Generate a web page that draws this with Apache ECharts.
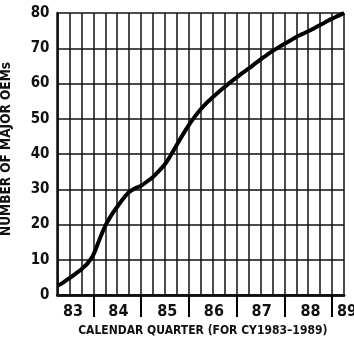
<!DOCTYPE html>
<html>
<head>
<meta charset="utf-8">
<script src="https://cdn.jsdelivr.net/npm/echarts@6/dist/echarts.min.js"></script>
<style>html,body{margin:0;padding:0;background:#fff;}#c{width:354px;height:337px;}</style>
</head>
<body>
<div id="c"></div>
<script>
// Position along the time axis in quarters (0 = start of the 83 block, 24 = 89), read every half quarter
var quarters = [0,0.5,1,1.5,2,2.5,3,3.5,4,4.5,5,5.5,6,6.5,7,7.5,8,8.5,9,9.5,10,10.5,11,11.5,12,12.5,13,13.5,14,14.5,15,15.5,16,16.5,17,17.5,18,18.5,19,19.5,20,20.5,21,21.5,22,22.5,23,23.5,24];
var oems = [2.6,3.6,4.8,6.0,7.3,8.9,11.4,15.6,19.6,22.6,25.0,27.3,29.2,30.3,31.0,32.2,33.5,35.2,37.1,39.7,42.6,45.5,48.2,50.6,52.7,54.5,56.1,57.6,59.0,60.4,61.7,63.0,64.2,65.5,66.8,68.0,69.2,70.2,71.2,72.2,73.2,74.0,74.8,75.7,76.6,77.5,78.4,79.2,80.0];
var yearLabels = ['83','84','85','86','87','88','89'];
var yearLabelAt = [1.3,5.1,9.2,13.1,17.1,21.2,24];
var yearDividers = [3,7,11,15,19,23];
var yTicks = [0,10,20,30,40,50,60,70,80];

var FONT = '"DejaVu Sans Condensed","Liberation Sans Narrow",sans-serif';
var chart = echarts.init(document.getElementById('c'), null, {renderer:'canvas'});
chart.setOption({
  animation:false,
  backgroundColor:'#fff',
  grid:{left:57.5, right:10, top:13, bottom:42, containLabel:false, outerBoundsMode:'none'},
  xAxis:[{
    type:'value', min:0, max:24, interval:1, position:'bottom', offset:0,
    axisLine:{show:true, onZero:false, lineStyle:{color:'#111', width:2.5}},
    axisTick:{show:false},
    axisLabel:{show:false},
    splitLine:{show:true, lineStyle:{color:'#111', width:1.5}}
  },{
    type:'value', min:0, max:24, interval:1, position:'bottom', offset:0,
    name:'CALENDAR QUARTER (FOR CY1983\u20131989)',
    nameLocation:'middle', nameGap:27,
    nameTextStyle:{color:'#111', fontFamily:FONT, fontSize:12, fontWeight:'bold', padding:[0,0,0,4]},
    axisLine:{show:true, onZero:false, lineStyle:{color:'#111', width:2.5}},
    axisTick:{show:true, customValues:yearDividers, length:22, inside:false, lineStyle:{color:'#000', width:2}},
    axisLabel:{show:true, customValues:yearLabelAt, margin:9, color:'#111', fontFamily:FONT, fontSize:16, fontWeight:'bold',
      alignMinLabel:'center', alignMaxLabel:'center',
      formatter:function(v){
        for (var i=0;i<yearLabelAt.length;i++){ if (Math.abs(yearLabelAt[i]-v)<1e-6) return i===yearLabels.length-1 ? '{r|'+yearLabels[i]+'}' : yearLabels[i]; }
        return '';
      },
      rich:{r:{padding:[0,0,0,6], fontFamily:FONT, fontSize:16, fontWeight:'bold', color:'#111'}}
    },
    splitLine:{show:false}
  }],
  yAxis:{
    type:'value', min:0, max:80, interval:10,
    name:'NUMBER OF MAJOR OEMs',
    nameLocation:'middle', nameGap:44,
    nameTextStyle:{color:'#111', fontFamily:FONT, fontSize:13.5, fontWeight:'bold', padding:[0,0,0,10]},
    axisLine:{show:true, lineStyle:{color:'#111', width:2.5}},
    axisTick:{show:false},
    axisLabel:{show:true, margin:8, color:'#111', fontFamily:FONT, fontSize:15, fontWeight:'bold',
      formatter:function(v){ return yTicks.indexOf(v)>=0 ? String(v) : ''; }},
    splitLine:{show:true, lineStyle:{color:'#111', width:1.5}}
  },
  series:[{
    type:'line',
    xAxisIndex:0,
    data:quarters.map(function(q,i){return [q, oems[i]];}),
    smooth:0.3,
    showSymbol:false,
    lineStyle:{color:'#000', width:4},
    clip:false
  }]
});
</script>
</body>
</html>
